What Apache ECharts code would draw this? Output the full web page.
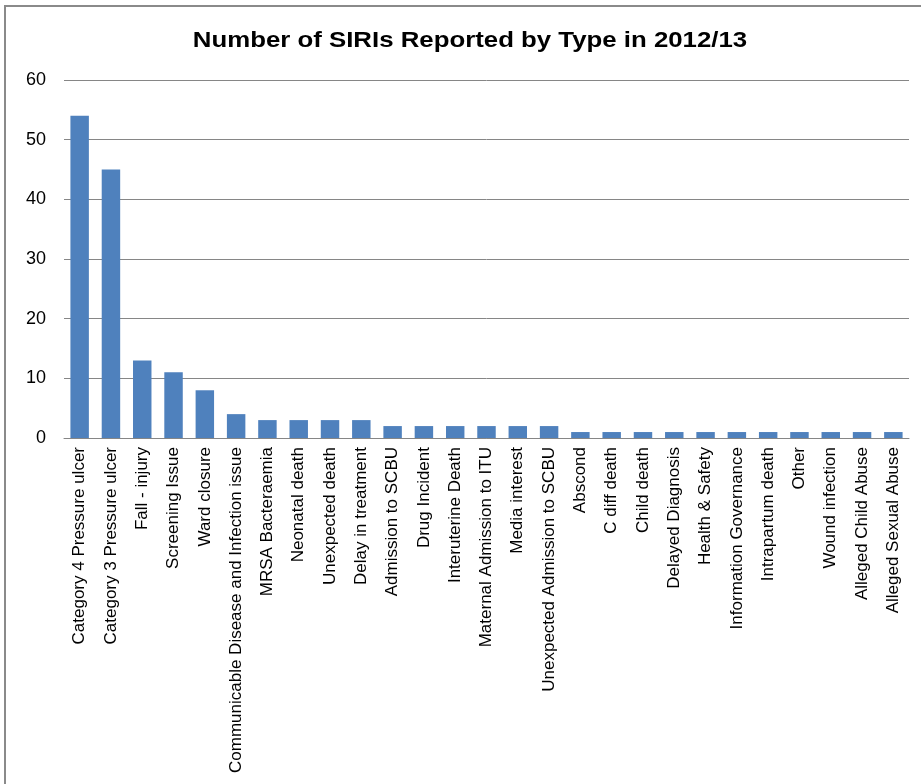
<!DOCTYPE html>
<html>
<head>
<meta charset="utf-8">
<style>
  html, body { margin: 0; padding: 0; background: #ffffff; }
  #chart { width: 921px; height: 784px; }
</style>
<script src="https://cdn.jsdelivr.net/npm/echarts@6/dist/echarts.min.js"></script>
</head>
<body>
<div id="chart"></div>
<script>
// SIRI incident types and counts for 2012/13
const categories = [
  'Category 4 Pressure ulcer',
  'Category 3 Pressure ulcer',
  'Fall - injury',
  'Screening Issue',
  'Ward closure',
  'Communicable Disease and Infection issue',
  'MRSA Bacteraemia',
  'Neonatal death',
  'Unexpected death',
  'Delay in treatment',
  'Admission to SCBU',
  'Drug Incident',
  'Interuterine Death',
  'Maternal Admission to ITU',
  'Media interest',
  'Unexpected Admission to SCBU',
  'Abscond',
  'C diff death',
  'Child death',
  'Delayed Diagnosis',
  'Health & Safety',
  'Information Governance',
  'Intrapartum death',
  'Other',
  'Wound infection',
  'Alleged Child Abuse',
  'Alleged Sexual Abuse'
];
const counts = [54, 45, 13, 11, 8, 4, 3, 3, 3, 3, 2, 2, 2, 2, 2, 2, 1, 1, 1, 1, 1, 1, 1, 1, 1, 1, 1];
const yTicks = { min: 0, max: 60, interval: 10 };
const titleText = 'Number of SIRIs Reported by Type in 2012/13';

const FONT = 'Liberation Sans, Arial, sans-serif';
const chart = echarts.init(document.getElementById('chart'), null, { renderer: 'canvas' });

chart.setOption({
  animation: false,
  backgroundColor: '#ffffff',
  textStyle: { fontFamily: FONT },
  graphic: [
    {
      // outer frame of the chart area
      type: 'rect',
      shape: { x: 5, y: 6, width: 940, height: 820 },
      style: { fill: 'none', stroke: '#8a8a8a', lineWidth: 2 },
      silent: true,
      z: -1
    },
    {
      // chart title, slightly widened bold face
      type: 'text',
      x: 470,
      y: 41.5,
      scaleX: 1.2,
      scaleY: 1,
      style: {
        text: titleText,
        fontFamily: FONT,
        fontWeight: 'bold',
        fontSize: 21.5,
        fill: '#000000',
        align: 'center',
        verticalAlign: 'middle'
      },
      silent: true
    }
  ],
  grid: { left: 64, right: 12, top: 80, bottom: 346, containLabel: false },
  xAxis: {
    type: 'category',
    data: categories,
    axisLine: { show: true, lineStyle: { color: '#868686', width: 1 } },
    axisTick: { show: false },
    axisLabel: {
      rotate: 90,
      interval: 0,
      margin: 9,
      fontSize: 17,
      color: '#000000',
      fontFamily: FONT
    }
  },
  yAxis: {
    type: 'value',
    min: yTicks.min,
    max: yTicks.max,
    interval: yTicks.interval,
    axisLine: { show: false },
    axisTick: { show: false },
    splitLine: { show: true, lineStyle: { color: '#868686', width: 1 } },
    axisLabel: {
      margin: 18,
      fontSize: 18,
      color: '#000000',
      fontFamily: FONT
    }
  },
  series: [{
    type: 'bar',
    data: counts,
    barCategoryGap: '41%',
    itemStyle: { color: '#4f81bd' }
  }]
});
</script>
</body>
</html>
